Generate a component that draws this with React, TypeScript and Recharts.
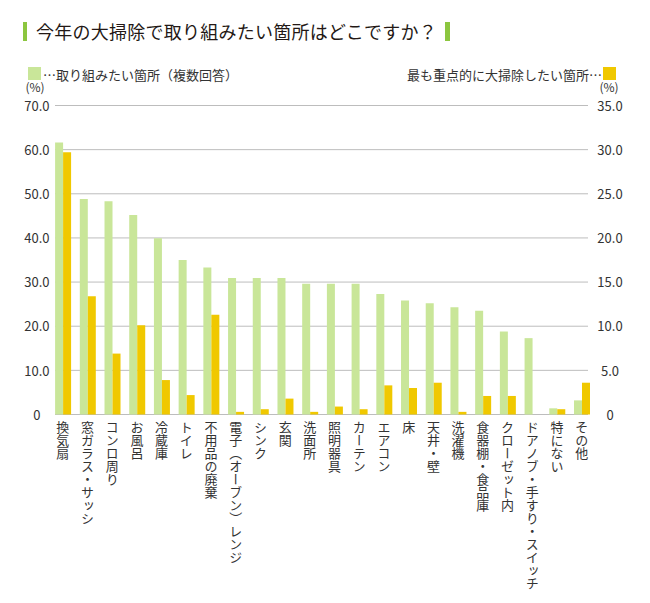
import React from "react";
import { BarChart, Bar, XAxis, YAxis, CartesianGrid } from "recharts";

const categories = [
  "換気扇", "窓ガラス・サッシ", "コンロ周り", "お風呂", "冷蔵庫", "トイレ", "不用品の廃棄",
  "電子（オーブン）レンジ", "シンク", "玄関", "洗面所", "照明器具", "カーテン", "エアコン",
  "床", "天井・壁", "洗濯機", "食器棚・食品庫", "クローゼット内", "ドアノブ・手すり・スイッチ",
  "特にない", "その他",
];
const wantToClean = [61.6, 48.8, 48.3, 45.2, 39.9, 35.0, 33.3, 30.9, 30.9, 30.9, 29.6, 29.6, 29.6, 27.3, 25.8, 25.2, 24.3, 23.5, 18.8, 17.3, 1.4, 3.2];
const mostImportant = [29.7, 13.4, 6.9, 10.1, 3.9, 2.2, 11.3, 0.3, 0.6, 1.8, 0.3, 0.9, 0.6, 3.3, 3.0, 3.6, 0.3, 2.1, 2.1, 0, 0.6, 3.6];
const leftTicks = [0, 10, 20, 30, 40, 50, 60, 70];
const rightTicks = [0, 5, 10, 15, 20, 25, 30, 35];

const title = "今年の大掃除で取り組みたい箇所はどこですか？";
const legendA = "…取り組みたい箇所（複数回答）";
const legendB = "最も重点的に大掃除したい箇所…";

const data = categories.map((c, i) => ({ name: c, a: wantToClean[i], b: mostImportant[i] }));

const FONT = '"Noto Sans CJK JP", "Noto Sans", sans-serif';
const GREEN = "#c9e699";
const YELLOW = "#f0c800";
const MARK = "#8cc63f";
const TEXT = "#333";

const fmt = (v: number) => (v === 0 ? "0" : v.toFixed(1));

const LeftTick = (props: any) => {
  const { x, y, payload } = props;
  return (
    <text x={x - 13.5} y={y} dy="0.4em" textAnchor="middle" fontSize={13} fill={TEXT} fontFamily={FONT}>
      {fmt(payload.value)}
    </text>
  );
};
const RightTick = (props: any) => {
  const { x, y, payload } = props;
  return (
    <text x={x + 16} y={y} dy="0.4em" textAnchor="middle" fontSize={13} fill={TEXT} fontFamily={FONT}>
      {fmt(payload.value)}
    </text>
  );
};
const BottomTick = (props: any) => {
  const { x, y, payload } = props;
  return (
    <text
      x={x}
      y={y}
      fontSize={13}
      fill={TEXT}
      fontFamily={FONT}
      style={{ writingMode: "vertical-rl" as any }}
    >
      {payload.value}
    </text>
  );
};

const GridLine = (props: any) => {
  const { x1, x2, y1, y2 } = props;
  return <line x1={x1 + 4.6} x2={x2 - 6} y1={y1} y2={y2} stroke="#bdbdbd" strokeWidth={1} />;
};

export default function App() {
  return (
    <div style={{ position: "absolute", left: 0, top: 0, width: 650, height: 603, background: "#fff", fontFamily: FONT }}>
      <div style={{ position: "absolute", left: 23, top: 22, width: 4, height: 19, background: MARK }} />
      <div style={{ position: "absolute", left: 36, top: 21, fontSize: 18, lineHeight: "20px", color: "#231815", letterSpacing: 0.25, whiteSpace: "nowrap" }}>
        {title}
      </div>
      <div style={{ position: "absolute", left: 445, top: 22, width: 5, height: 19, background: MARK }} />

      <div style={{ position: "absolute", left: 28, top: 67, width: 13, height: 13, background: GREEN }} />
      <div style={{ position: "absolute", left: 43, top: 67, fontSize: 13, lineHeight: "15px", color: TEXT, whiteSpace: "nowrap" }}>
        {legendA}
      </div>
      <div style={{ position: "absolute", right: 48, top: 67, fontSize: 13, lineHeight: "15px", color: TEXT, whiteSpace: "nowrap" }}>
        {legendB}
      </div>
      <div style={{ position: "absolute", left: 603, top: 67, width: 13, height: 13, background: YELLOW }} />

      <div style={{ position: "absolute", left: 15, width: 40, textAlign: "center", top: 81, fontSize: 12, lineHeight: "12px", color: TEXT }}>(%)</div>
      <div style={{ position: "absolute", left: 589, width: 40, textAlign: "center", top: 81, fontSize: 12, lineHeight: "12px", color: TEXT }}>(%)</div>

      <div style={{ position: "absolute", left: 0, top: 0 }}>
        <BarChart
          width={650}
          height={603}
          data={data}
          margin={{ top: 105.5, right: 0, left: 0, bottom: 0 }}
          barCategoryGap="19%"
          barGap={0}
        >
          <CartesianGrid yAxisId="left" vertical={false} horizontal={(p: any) => <GridLine {...p} />} />
          <XAxis
            dataKey="name"
            interval={0}
            height={188.5}
            axisLine={false}
            tickLine={false}
            tickSize={0}
            tickMargin={6.5}
            tick={<BottomTick />}
          />
          <YAxis
            yAxisId="left"
            orientation="left"
            width={50.4}
            domain={[0, 70]}
            ticks={leftTicks}
            axisLine={false}
            tickLine={false}
            tickSize={0}
            tickMargin={0}
            tick={<LeftTick />}
          />
          <YAxis
            yAxisId="right"
            orientation="right"
            width={56}
            domain={[0, 35]}
            ticks={rightTicks}
            axisLine={false}
            tickLine={false}
            tickSize={0}
            tickMargin={0}
            tick={<RightTick />}
          />
          <Bar dataKey="a" yAxisId="left" fill={GREEN} isAnimationActive={false} />
          <Bar dataKey="b" yAxisId="right" fill={YELLOW} isAnimationActive={false} />
        </BarChart>
      </div>
    </div>
  );
}
